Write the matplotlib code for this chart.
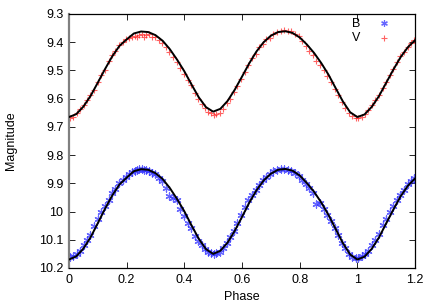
import numpy as np
import matplotlib
matplotlib.use("Agg")
import matplotlib.pyplot as plt

plt.rcParams["font.family"] = ["Liberation Sans", "DejaVu Sans"]

# MODEL CURVES ####################################################

model_phase = [
    0.000, 0.025, 0.050, 0.075, 0.100, 0.125, 0.150, 0.175, 0.200, 0.225,
    0.250, 0.275, 0.300, 0.325, 0.350, 0.375, 0.400, 0.425, 0.450, 0.475,
    0.500, 0.525, 0.550, 0.575, 0.600, 0.625, 0.650, 0.675, 0.700, 0.725,
    0.750, 0.775, 0.800, 0.825, 0.850, 0.875, 0.900, 0.925, 0.950, 0.975,
    1.000, 1.025, 1.050, 1.075, 1.100, 1.125, 1.150, 1.175, 1.200,
]

model_V = [
    9.665, 9.655, 9.628, 9.590, 9.543, 9.495, 9.450, 9.413, 9.390, 9.369,
    9.362, 9.364, 9.375, 9.395, 9.425, 9.462, 9.503, 9.550, 9.595, 9.630,
    9.646, 9.636, 9.608, 9.568, 9.522, 9.475, 9.433, 9.400, 9.377, 9.364,
    9.361, 9.367, 9.383, 9.408, 9.438, 9.474, 9.515, 9.563, 9.610, 9.648,
    9.665, 9.656, 9.629, 9.591, 9.544, 9.497, 9.453, 9.418, 9.393,
]

model_B = [
    10.170, 10.159, 10.131, 10.091, 10.041, 9.990, 9.943, 9.904, 9.880, 9.857,
    9.850, 9.852, 9.864, 9.885, 9.917, 9.956, 9.999, 10.049, 10.096, 10.133,
    10.150, 10.139, 10.110, 10.068, 10.019, 9.969, 9.925, 9.890, 9.866, 9.852,
    9.849, 9.855, 9.872, 9.899, 9.930, 9.968, 10.012, 10.062, 10.112, 10.152,
    10.170, 10.160, 10.132, 10.092, 10.042, 9.993, 9.946, 9.909, 9.883,
]

# OBSERVATIONS ####################################################

obs_phase = [
    0.004, 0.015, 0.027, 0.038, 0.051, 0.063, 0.074, 0.088, 0.099, 0.112,
    0.124, 0.137, 0.149, 0.161, 0.174, 0.186, 0.198, 0.209, 0.219, 0.228,
    0.236, 0.244, 0.252, 0.259, 0.267, 0.276, 0.287, 0.298, 0.311, 0.323,
    0.336, 0.348, 0.361, 0.373, 0.386, 0.398, 0.411, 0.423, 0.436, 0.448,
    0.461, 0.472, 0.483, 0.493, 0.502, 0.511, 0.522, 0.534, 0.547, 0.559,
    0.572, 0.584, 0.597, 0.609, 0.622, 0.634, 0.647, 0.659, 0.672, 0.684,
    0.697, 0.709, 0.722, 0.734, 0.746, 0.758, 0.771, 0.783, 0.796, 0.808,
    0.821, 0.833, 0.846, 0.858, 0.871, 0.883, 0.896, 0.908, 0.921, 0.933,
    0.946, 0.958, 0.971, 0.983, 0.994, 1.004, 1.015, 1.027, 1.038, 1.051,
    1.063, 1.074, 1.088, 1.099, 1.112, 1.124, 1.137, 1.149, 1.161, 1.174,
    1.186, 1.198,
]

obs_V = [
    9.667, 9.664, 9.652, 9.638, 9.622, 9.605, 9.588, 9.570, 9.541, 9.516,
    9.500, 9.468, 9.447, 9.430, 9.410, 9.398, 9.388, 9.386, 9.381, 9.378,
    9.383, 9.376, 9.372, 9.380, 9.374, 9.372, 9.381, 9.383, 9.392, 9.401,
    9.418, 9.433, 9.452, 9.470, 9.492, 9.513, 9.535, 9.552, 9.580, 9.602,
    9.619, 9.634, 9.648, 9.652, 9.657, 9.655, 9.650, 9.635, 9.616, 9.600,
    9.577, 9.556, 9.530, 9.506, 9.482, 9.457, 9.440, 9.418, 9.406, 9.389,
    9.384, 9.370, 9.364, 9.359, 9.358, 9.361, 9.362, 9.370, 9.378, 9.396,
    9.412, 9.430, 9.446, 9.468, 9.482, 9.500, 9.518, 9.542, 9.566, 9.588,
    9.612, 9.632, 9.650, 9.662, 9.668, 9.670, 9.666, 9.655, 9.640, 9.624,
    9.604, 9.588, 9.563, 9.540, 9.515, 9.496, 9.470, 9.450, 9.433, 9.416,
    9.404, 9.392,
]

obs_B = [
    10.160, 10.158, 10.150, 10.138, 10.120, 10.100, 10.083, 10.052, 10.028, 10.000,
    9.982, 9.958, 9.936, 9.920, 9.900, 9.888, 9.876, 9.868, 9.860, 9.856,
    9.852, 9.850, 9.848, 9.851, 9.853, 9.856, 9.862, 9.868, 9.880, 9.892,
    9.918, 9.945, 9.952, 9.960, 9.992, 10.015, 10.040, 10.058, 10.085, 10.104,
    10.120, 10.134, 10.142, 10.147, 10.150, 10.147, 10.142, 10.128, 10.110, 10.090,
    10.068, 10.040, 10.012, 9.985, 9.960, 9.942, 9.922, 9.905, 9.888, 9.876,
    9.866, 9.858, 9.852, 9.848, 9.848, 9.852, 9.857, 9.863, 9.874, 9.888,
    9.902, 9.918, 9.935, 9.972, 9.968, 9.990, 10.012, 10.034, 10.060, 10.084,
    10.110, 10.130, 10.150, 10.160, 10.165, 10.163, 10.158, 10.150, 10.138, 10.120,
    10.100, 10.080, 10.048, 10.025, 10.002, 9.982, 9.960, 9.940, 9.922, 9.904,
    9.893, 9.882,
]

x_ticks = [0, 0.2, 0.4, 0.6, 0.8, 1, 1.2]
x_tick_labels = ["0", "0.2", "0.4", "0.6", "0.8", "1", "1.2"]
y_ticks = [9.3, 9.4, 9.5, 9.6, 9.7, 9.8, 9.9, 10.0, 10.1, 10.2]
y_tick_labels = ["9.3", "9.4", "9.5", "9.6", "9.7", "9.8", "9.9", "10", "10.1", "10.2"]

# PLOT ############################################################

fig = plt.figure(figsize=(4.36, 3.05), dpi=100)
ax = fig.add_axes([69 / 436, 37 / 305, 346 / 436, 254 / 305])

asterisk = (6, 2, 0)

b_pts = ax.scatter(
    obs_phase, obs_B,
    marker=asterisk, s=26, color="#3333ff", linewidths=0.9,
    alpha=0.75, label="B", zorder=2
)
v_pts = ax.scatter(
    obs_phase, obs_V,
    marker="+", s=24, color="#ff2020", linewidths=0.8,
    alpha=0.7, label="V", zorder=2
)

ax.plot(model_phase, model_V, color="black", linewidth=1.4, zorder=3)
ax.plot(model_phase, model_B, color="black", linewidth=1.4, zorder=3)

ax.set_xlim(0, 1.2)
ax.set_ylim(10.2, 9.3)
ax.set_xticks(x_ticks)
ax.set_xticklabels(x_tick_labels)
ax.set_yticks(y_ticks)
ax.set_yticklabels(y_tick_labels)
ax.tick_params(direction="in", length=4, width=0.6, labelsize=9,
               top=True, right=True, pad=4, colors="black")

for side in ["top", "right", "bottom"]:
    ax.spines[side].set_linewidth(0.9)
ax.spines["left"].set_color("#808080")
ax.spines["left"].set_linewidth(1.6)

ax.set_xlabel("Phase", fontsize=9, labelpad=4)
ax.set_ylabel("Magnitude", fontsize=9, labelpad=16)

ax.legend(
    handles=[b_pts, v_pts], loc="upper right",
    bbox_to_anchor=(0.975, 1.025), frameon=False, markerfirst=False,
    fontsize=9, handletextpad=0.9, labelspacing=0.2, borderpad=0.3,
    scatterpoints=1, markerscale=0.8
)

fig.savefig("out.png", dpi=100)
